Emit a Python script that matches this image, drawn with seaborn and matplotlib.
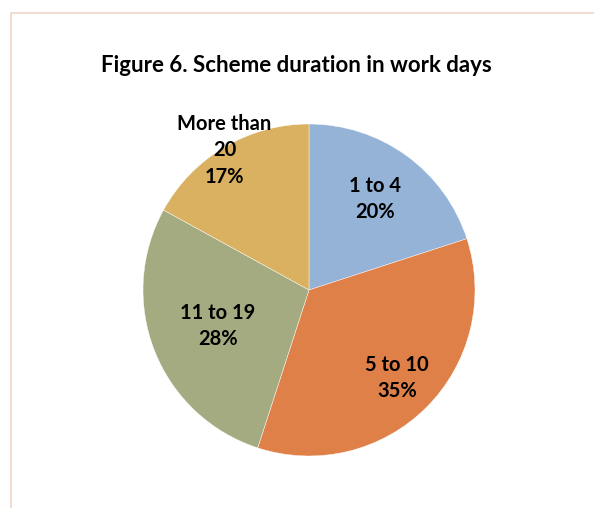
import numpy as np
import matplotlib
matplotlib.use("Agg")
import matplotlib.pyplot as plt
import seaborn as sns
from matplotlib.patches import Rectangle

categories = ["1 to 4", "5 to 10", "11 to 19", "More than\n20"]
values = [20, 35, 28, 17]
colors = ["#95B3D7", "#DF8049", "#A5AB81", "#D9B160"]
label_dist = [0.68, 0.75, 0.59, 1.0]

sns.set_theme(style="white")
plt.rcParams['font.family'] = ['Lato', 'DejaVu Sans']

fig = plt.figure(figsize=(5.94, 5.08), dpi=100)
fig.patch.set_facecolor("white")

# border
fig.add_artist(Rectangle((11/594, -0.1), 1.2, (508-13)/508 + 0.1, transform=fig.transFigure,
                         fill=False, edgecolor="#F0D5C6", linewidth=1.2))

ax = fig.add_axes([143/594, 52/508, 332/594, 332/508])
wedges, _ = ax.pie(values, colors=colors, startangle=90, counterclock=False,
                   wedgeprops=dict(edgecolor="white", linewidth=0.3))
ax.set_xlim(-1, 1)
ax.set_ylim(-1, 1)
ax.set_aspect("equal")

for w, cat, v, d in zip(wedges, categories, values, label_dist):
    ang = np.deg2rad((w.theta1 + w.theta2) / 2)
    ax.text(d * np.cos(ang), d * np.sin(ang) - (0.02 if "\n" in cat else 0), f"{cat}\n{v}%",
            ha="center", va="center", fontsize=14.5, fontweight="bold", color="black",
            linespacing=1.38)

fig.text(296/594, 1 - 66/508, "Figure 6. Scheme duration in work days", ha="center", va="center",
         fontsize=16, fontweight="bold", color="black")

fig.savefig("out.png", dpi=100)
